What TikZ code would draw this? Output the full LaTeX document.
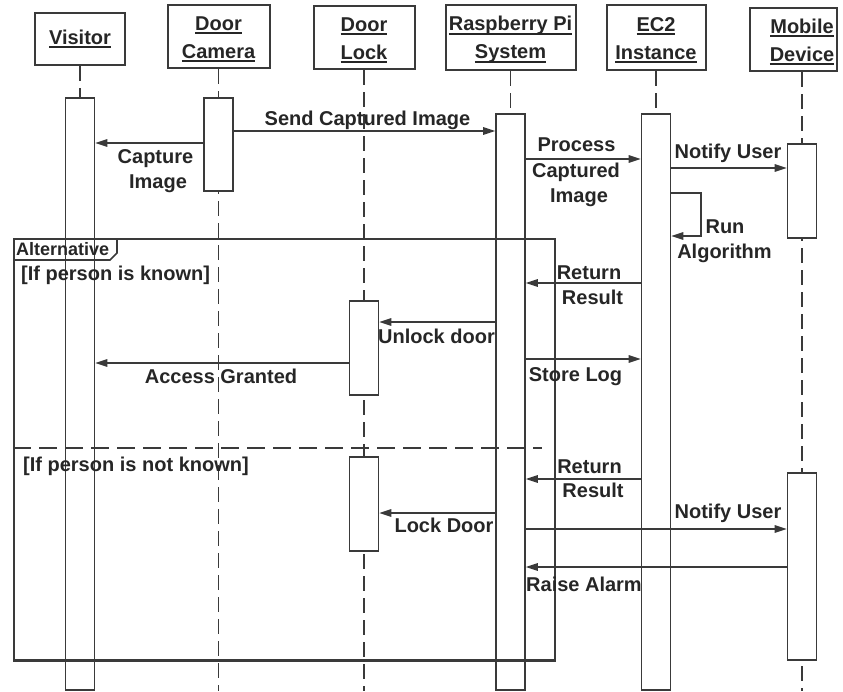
\documentclass[tikz,border=0pt]{standalone}
\usepackage{fontspec}
\setmainfont{Liberation Sans}
\usetikzlibrary{arrows.meta}
\definecolor{ln}{RGB}{58,58,58}
\definecolor{tx}{RGB}{38,38,38}
\newcommand{\uln}[1]{\setbox0=\hbox{#1}\rlap{\rule[-4pt]{\wd0}{2pt}}\box0}
\newcommand{\hstrut}{\rule{0pt}{19pt}}
\begin{document}
\begin{tikzpicture}[x=1pt,y=-1pt,
  font=\fontsize{20}{28}\selectfont\bfseries,
  hdr/.style={draw=ln, line width=2pt, fill=white, align=center, inner sep=0pt, text=tx},
  bar/.style={draw=ln, line width=1.6pt, fill=white, minimum width=29pt, inner sep=0pt, anchor=north},
  life/.style={draw=ln, line width=1.6pt, dash pattern=on 15pt off 7pt},
  msg/.style={draw=ln, line width=1.6pt, -{Triangle[length=12pt,width=7.5pt]}},
  lbl/.style={text=tx, inner sep=0pt, anchor=base},
  frm/.style={draw=ln, line width=1.6pt}]
\useasboundingbox (0,0) rectangle (843,691);
% headers
\node[hdr, minimum width=90pt, minimum height=52pt] (vis) at (80,39) {\uln{Visitor}};
\node[hdr, minimum width=102pt, minimum height=63pt] (cam) at (218.5,36.5) {\hstrut\uln{Door}\\\uln{Camera}};
\node[hdr, minimum width=101pt, minimum height=63pt] (lock) at (364,37.5) {\hstrut\uln{Door}\\\uln{Lock}};
\node[hdr, minimum width=130pt, minimum height=65pt] (rpi) at (510.5,37.5) {\hstrut\uln{Raspberry Pi}\\\uln{System}};
\node[hdr, minimum width=99pt, minimum height=65pt] (ec2) at (656,37.5) {\hstrut\uln{EC2}\\\uln{Instance}};
\node[hdr, minimum width=87pt, minimum height=63pt] (mob) at (793.5,39.5) {};
\node[text=tx, align=center, inner sep=0pt] (mobt) at (802,39.5) {\hstrut\uln{Mobile}\\\uln{Device}};
% bottom reference
\coordinate (bot) at (0,691);
% lifelines
\draw[life] (vis.south) -- (vis.south |- bot);
\draw[life] (cam.south) -- (cam.south |- bot);
\draw[life] (lock.south) -- (lock.south |- bot);
\draw[life] (rpi.south) -- (rpi.south |- bot);
\draw[life] (ec2.south) -- (ec2.south |- bot);
\draw[life] (mobt |- mob.south) -- (mobt |- bot);
% activation bars
\node[bar, minimum height=592pt] (visA) at (80,97) {};
\node[bar, minimum height=93pt] (camA) at (218.5,97) {};
\node[bar, minimum height=94pt] (lockA1) at (364,300) {};
\node[bar, minimum height=94pt] (lockA2) at (364,456) {};
\node[bar, minimum height=576pt] (rpiA) at (510.5,113) {};
\node[bar, minimum height=576pt] (ec2A) at (656,113) {};
\node[bar, minimum height=94pt] (mobA1) at (802,143) {};
\node[bar, minimum height=187pt] (mobA2) at (802,472) {};
% message levels
\coordinate (y1) at (0,131);
\coordinate (y2) at (0,143);
\coordinate (y3) at (0,159);
\coordinate (y4) at (0,168);
\coordinate (y5a) at (0,193);
\coordinate (y5b) at (0,236);
\coordinate (y6) at (0,283);
\coordinate (y7) at (0,322);
\coordinate (y8) at (0,363);
\coordinate (y9) at (0,359);
\coordinate (y10) at (0,479);
\coordinate (y11) at (0,513);
\coordinate (y12) at (0,529);
\coordinate (y13) at (0,567);
\coordinate (loopx) at (701,0);
% messages
\draw[msg] (camA.east |- y1) -- (rpiA.west |- y1);
\draw[msg] (camA.west |- y2) -- (visA.east |- y2);
\draw[msg] (rpiA.east |- y3) -- (ec2A.west |- y3);
\draw[msg] (ec2A.east |- y4) -- (mobA1.west |- y4);
\draw[msg] (ec2A.east |- y5a) -- (loopx |- y5a) -- (loopx |- y5b) -- (ec2A.east |- y5b);
\draw[msg] (ec2A.west |- y6) -- (rpiA.east |- y6);
\draw[msg] (rpiA.west |- y7) -- (lockA1.east |- y7);
\draw[msg] (lockA1.west |- y8) -- (visA.east |- y8);
\draw[msg] (rpiA.east |- y9) -- (ec2A.west |- y9);
\draw[msg] (ec2A.west |- y10) -- (rpiA.east |- y10);
\draw[msg] (rpiA.west |- y11) -- (lockA2.east |- y11);
\draw[msg] (rpiA.east |- y12) -- (mobA2.west |- y12);
\draw[msg] (mobA2.west |- y13) -- (rpiA.east |- y13);
% alternative frame
\node[frm, minimum width=541pt, minimum height=421pt, inner sep=0pt, anchor=north west] (alt) at (13,238) {};
\draw[frm] (alt.north west |- 0,260) -- (110,260) -- (117,253) -- (117,238);
\node[lbl, anchor=base west, font=\fontsize{18}{22}\selectfont\bfseries] (altl) at (16,255) {Alternative};
\draw[frm, dash pattern=on 18pt off 8pt] (alt.west |- 0,448) -- (542,448);
\draw[draw=ln, line width=2pt] (alt.south west) -- (alt.south east);
\node[lbl, anchor=base west] (g1) at (21,280) {[If person is known]};
\node[lbl, anchor=base west] (g2) at (23,471) {[If person is not known]};
% labels
\node[lbl] (l1) at (367.5,125) {Send Captured Image};
\node[lbl] (l2a) at (155.5,163) {Capture};
\node[lbl] (l2b) at (158,188) {Image};
\node[lbl] (l3a) at (576.5,151) {Process};
\node[lbl] (l3b) at (576,177) {Captured};
\node[lbl] (l3c) at (579,202) {Image};
\node[lbl] (l4) at (728,158) {Notify User};
\node[lbl] (l5a) at (725,233) {Run};
\node[lbl] (l5b) at (724.5,258) {Algorithm};
\node[lbl] (l6a) at (589,279) {Return};
\node[lbl] (l6b) at (592.5,304) {Result};
\node[lbl] (l7) at (436.5,343) {Unlock door};
\node[lbl] (l8) at (221,383) {Access Granted};
\node[lbl] (l9) at (575.5,381) {Store Log};
\node[lbl] (l10a) at (589.5,473) {Return};
\node[lbl] (l10b) at (593,497) {Result};
\node[lbl] (l11) at (444,532) {Lock Door};
\node[lbl] (l12) at (728,518) {Notify User};
\node[lbl] (l13) at (584,591) {Raise Alarm};
\end{tikzpicture}
\end{document}
